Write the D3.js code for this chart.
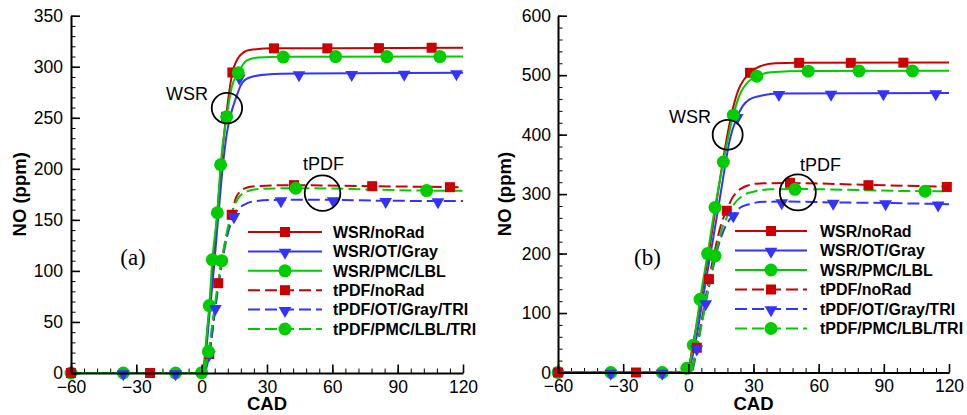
<!DOCTYPE html>
<html><head><meta charset="utf-8">
<script src="https://cdn.jsdelivr.net/npm/d3@7"></script>
<style>
html,body{margin:0;padding:0;background:#fff;}
svg text{font-family:"Liberation Sans",Arial,Helvetica,sans-serif;}
</style></head>
<body><svg id="chart" width="967" height="415"></svg>
<script>
// ---------- data ----------
const xTicks = [-60, -30, 0, 30, 60, 90, 120];
const yTicksA = [0, 50, 100, 150, 200, 250, 300, 350];
const yTicksB = [0, 100, 200, 300, 400, 500, 600];
const seriesNames = ["WSR/noRad", "WSR/OT/Gray", "WSR/PMC/LBL", "tPDF/noRad", "tPDF/OT/Gray/TRI", "tPDF/PMC/LBL/TRI"];
const panelLabels = ["(a)", "(b)"];

// Panel (a) curves [CAD, NO ppm]
const aWsrNoRad = [[-60,0],[0,0],[1,8],[3,50],[5,100],[7,152],[9,205],[11.2,251],[14.1,294],[17.6,311],[22,316.5],[33,318],[60,318.2],[120,318.6]];
const aWsrOT    = [[-60,0],[0.3,0],[1.3,8],[3.5,55],[5.5,100],[7.5,150],[9.5,198],[11.5,234],[13,250],[16,271],[18,282],[21.4,289],[30,292.5],[45,293.3],[120,294]];
const aWsrPMC   = [[-60,0],[0,0],[1,6],[2,30],[3.5,66],[4.9,111],[7.2,157],[8.7,204],[11.5,251],[13.8,280],[16.8,294],[20.6,306],[26,309],[37.5,309.8],[120,310]];
const aPdfNoRad = [[-60,0],[1.2,0],[2,6],[3.5,19],[6,60],[7.6,88],[10.5,125],[13.8,155],[16,173],[20.6,181.5],[26,183.2],[42,184],[78,183],[120,182]];
const aPdfOT    = [[-60,0],[1.5,0],[2.3,6],[3.5,19],[6.3,64],[8.5,96],[11,127],[14.5,153],[17,161],[20,165.5],[25,168.5],[36,169.6],[60,169.6],[85,168.7],[120,168.5]];
const aPdfPMC   = [[-60,0],[1.2,0],[2,8],[3.1,21],[6,66],[9.2,110],[12,142],[14.5,161],[17,172],[21,178],[28,180.5],[43,181],[103,178.7],[120,178.5]];
// Panel (a) markers
const aMkWsrNoRad = [[11.2,251],[14.1,294.4],[33.2,318],[57.7,318],[81.4,318.2],[105.6,318.6]];
const aMkWsrOT    = [[17.3,289.8],[44.7,293],[68.9,293.3],[93,293.5],[117,294]];
const aMkWsrPMC   = [[-60,0],[-36,0],[-12,0],[0,0.3],[3.5,66],[4.9,111],[7.2,157],[8.7,204],[11.5,251],[16.8,294],[37.5,309.5],[61.5,310],[85,310],[109.4,310]];
const aMkPdfNoRad = [[-60,0],[-23.7,0],[3.5,18.6],[7.6,88],[13.8,155],[42.4,184],[78.3,183],[114,182]];
const aMkPdfOT    = [[-36,0],[-12,0],[3.5,19],[6.3,64],[14.8,154],[36.4,169.6],[60.4,169.6],[84.5,168.7],[108.5,168.6]];
const aMkPdfPMC   = [[3.1,21],[9.2,110],[43.2,181],[103.3,178.7]];

// Panel (b) curves
const bWsrNoRad = [[-60,0],[-1,0],[0,5],[2,45],[5,105],[7.5,160],[10,215],[12.5,275],[15,335],[17.5,390],[20,436],[23,475],[25.5,492],[28.4,504],[33,515],[40,520],[50,521],[120,521.3]];
const bWsrOT    = [[-60,0],[-0.5,0],[0.5,8],[3,45],[6.5,120],[10,195],[13.5,270],[16.5,338],[19,390],[22.5,430],[25,448],[28,459],[33,465],[41.7,469],[120,470]];
const bWsrPMC   = [[-60,0],[-1,0],[0,8],[2.3,46],[5.4,123],[8.9,200],[12.3,278],[16.1,354],[20.7,433],[24,470],[27,487],[31.5,498],[38,505],[55,507],[120,507.5]];
const bPdfNoRad = [[-60,0],[1,0],[2,12],[3.9,42],[6.5,95],[9.5,157],[12.5,210],[15,248],[17.7,273],[20,292],[23.8,308],[27,314],[33,318],[46.8,318.5],[82.9,315.5],[120,312.5]];
const bPdfOT    = [[-60,0],[1.5,0],[2.5,12],[4,41],[6,80],[8,117],[11,170],[14,215],[17,245],[20.7,265],[23.8,277],[28,283],[35,287],[43,287.5],[66.7,286],[90.8,285],[120,283]];
const bPdfPMC   = [[-60,0],[1,0],[2,10],[4,42],[7,98],[9.5,150],[12.3,196],[15,236],[18,263],[21,283],[25.3,298],[30,304],[38,308],[49,308.5],[109,305],[120,305]];
// Panel (b) markers
const bMkWsrNoRad = [[28.4,504],[51,520.7],[74.8,520.7],[99,521]];
const bMkWsrOT    = [[22.5,430],[41.7,469],[65.7,469.5],[89.8,470],[113.9,470]];
const bMkWsrPMC   = [[-60,0],[-35.7,0],[-12,0],[-0.7,7],[2.3,46],[5.4,123],[8.9,200],[12.3,277.6],[16.1,354],[20.7,432.8],[31.5,498.3],[55.2,506.7],[78.6,507],[103.2,507]];
const bMkPdfNoRad = [[-60,0],[-24.1,0],[3.9,41.7],[9.5,157],[17.7,272],[46.8,319],[82.9,315],[119,312]];
const bMkPdfOT    = [[-35.7,0],[-12,0],[3.9,41],[8,117],[20.7,265],[43,287],[66.7,286],[90.8,285],[115,283]];
const bMkPdfPMC   = [[12.3,196],[49.1,308],[109,305]];

// annotations: [label, textX, textBaselineY, circleX, circleY]
const aNotes = [["WSR", -16.4, 267.6, 11.6, 259.5], ["tPDF", 46.5, 199, 55.5, 176.2]];
const bNotes = [["WSR", -8.9, 419.8, 18.1, 399.7], ["tPDF", 51.4, 339, 50.4, 303]];

// ---------- styles ----------
const colors = ["#cc0000", "#3333ff", "#00cc00", "#cc0000", "#3333ff", "#00cc00"];
const dashed = [false, false, false, true, true, true];
const shapes = ["square", "tri", "circle", "square", "tri", "circle"];

const svg = d3.select("#chart");

function drawMarker(g, shape, color, x, y) {
  if (shape === "square") {
    g.append("rect").attr("x", x - 5).attr("y", y - 5).attr("width", 10).attr("height", 10).attr("fill", color);
  } else if (shape === "circle") {
    g.append("circle").attr("cx", x).attr("cy", y).attr("r", 6.5).attr("fill", color);
  } else {
    g.append("path").attr("d", d3.symbol(d3.symbolTriangle, 70)()).attr("transform", `translate(${x},${y + 1}) rotate(180)`).attr("fill", color);
  }
}

function panel(cfg) {
  const x = d3.scaleLinear().domain([-60, 120]).range(cfg.xr);
  const y = d3.scaleLinear().domain([0, cfg.ymax]).range(cfg.yr);
  const g = svg.append("g");

  // minor ticks
  const minorX = d3.range(-60, 121, 6);
  const minorY = d3.range(0, cfg.ymax + 0.1, cfg.minorStep);
  g.append("g").attr("transform", `translate(0,${cfg.yr[0]})`)
    .call(d3.axisBottom(x).tickValues(minorX).tickSizeInner(-4.5).tickSizeOuter(0).tickFormat(""))
    .call(s => { s.select(".domain").remove(); s.selectAll("line").attr("stroke", "#000").attr("stroke-width", 1); });
  g.append("g").attr("transform", `translate(${cfg.xr[0]},0)`)
    .call(d3.axisLeft(y).tickValues(minorY).tickSizeInner(-4.5).tickSizeOuter(0).tickFormat(""))
    .call(s => { s.select(".domain").remove(); s.selectAll("line").attr("stroke", "#000").attr("stroke-width", 1); });

  // curves
  const line = d3.line().x(d => x(d[0])).y(d => y(d[1])).curve(d3.curveMonotoneX);
  cfg.lines.forEach((pts, i) => {
    g.append("path").datum(pts).attr("d", line).attr("fill", "none")
      .attr("stroke", colors[i]).attr("stroke-width", 2)
      .attr("stroke-dasharray", dashed[i] ? "12,5" : null);
  });
  cfg.markers.forEach((pts, i) => {
    pts.forEach(p => drawMarker(g, shapes[i], colors[i], x(p[0]), y(p[1])));
  });

  // major axes
  const ax = g.append("g").attr("transform", `translate(0,${cfg.yr[0]})`)
    .call(d3.axisBottom(x).tickValues(xTicks).tickSizeInner(-8.5).tickSizeOuter(0).tickPadding(8));
  const ay = g.append("g").attr("transform", `translate(${cfg.xr[0]},0)`)
    .call(d3.axisLeft(y).tickValues(cfg.yticks).tickSizeInner(-9).tickSizeOuter(0).tickPadding(cfg.ypad));
  [ax, ay].forEach(a => {
    a.select(".domain").attr("stroke", "#000").attr("stroke-width", 2);
    a.selectAll(".tick line").attr("stroke", "#000").attr("stroke-width", 1.6);
    a.selectAll(".tick text").attr("font-size", 17.5).attr("fill", "#000")
      .style("font-family", "'Liberation Sans',Arial,sans-serif");
  });
  ax.selectAll(".tick text").attr("dy", "0.66em");

  // axis titles
  g.append("text").attr("x", (cfg.xr[0] + cfg.xr[1]) / 2).attr("y", 410)
    .attr("text-anchor", "middle").attr("font-weight", "bold").attr("font-size", 18.5).text("CAD");
  g.append("text").attr("transform", `translate(${cfg.ytx},${(cfg.yr[0] + cfg.yr[1]) / 2}) rotate(-90)`)
    .attr("text-anchor", "middle").attr("dy", "0.35em").attr("font-weight", "bold").attr("font-size", 18.5).text("NO (ppm)");

  // panel label
  g.append("text").attr("x", cfg.lab[0]).attr("y", cfg.lab[1]).attr("text-anchor", "middle")
    .style("font-family", "'Liberation Serif','Times New Roman',serif").attr("font-size", 23).text(cfg.label);

  // annotations
  cfg.notes.forEach(n => {
    g.append("text").attr("x", x(n[1])).attr("y", y(n[2])).attr("font-size", 18).text(n[0]);
    g.append("circle").attr("cx", x(n[3])).attr("cy", y(n[4])).attr("r", cfg.noteR[n[0]])
      .attr("fill", "none").attr("stroke", "#000").attr("stroke-width", 1.8);
  });

  // legend
  const lg = g.append("g");
  seriesNames.forEach((name, i) => {
    const yy = cfg.leg.y0 + i * cfg.leg.dy;
    lg.append("line").attr("x1", cfg.leg.x1).attr("x2", cfg.leg.x2).attr("y1", yy).attr("y2", yy)
      .attr("stroke", colors[i]).attr("stroke-width", 2).attr("stroke-dasharray", dashed[i] ? "12,5" : null);
    drawMarker(lg, shapes[i], colors[i], (cfg.leg.x1 + cfg.leg.x2) / 2, yy);
    lg.append("text").attr("x", cfg.leg.tx).attr("y", yy).attr("dy", "0.36em")
      .attr("font-weight", "bold").attr("font-size", 16).text(name);
  });
}

panel({
  xr: [71, 463], yr: [373, 15.7], ymax: 350, minorStep: 10, yticks: yTicksA, ypad: 8, ytx: 19.5,
  lines: [aWsrNoRad, aWsrOT, aWsrPMC, aPdfNoRad, aPdfOT, aPdfPMC],
  markers: [aMkWsrNoRad, aMkWsrOT, aMkWsrPMC, aMkPdfNoRad, aMkPdfOT, aMkPdfPMC],
  label: panelLabels[0], lab: [133, 265], notes: aNotes, noteR: {WSR: 15.2, tPDF: 17.8},
  leg: {x1: 248, x2: 322, tx: 333, y0: 232, dy: 19.4}
});
panel({
  xr: [558, 949], yr: [372.5, 15.7], ymax: 600, minorStep: 20, yticks: yTicksB, ypad: 7, ytx: 505,
  lines: [bWsrNoRad, bWsrOT, bWsrPMC, bPdfNoRad, bPdfOT, bPdfPMC],
  markers: [bMkWsrNoRad, bMkWsrOT, bMkWsrPMC, bMkPdfNoRad, bMkPdfOT, bMkPdfPMC],
  label: panelLabels[1], lab: [647.5, 265], notes: bNotes, noteR: {WSR: 15, tPDF: 18},
  leg: {x1: 735, x2: 807, tx: 820, y0: 231, dy: 19.5}
});
</script></body></html>
